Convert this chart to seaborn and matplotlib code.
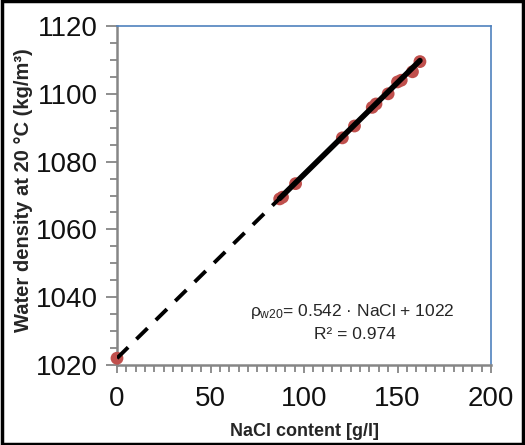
import numpy as np
import pandas as pd
import matplotlib
matplotlib.use("Agg")
import matplotlib.pyplot as plt
import seaborn as sns
from matplotlib.patches import Rectangle
from matplotlib.ticker import MultipleLocator

# Data
nacl = [0, 87, 88.5, 95.5, 120.5, 127, 136.5, 138.5, 145, 150, 152, 158, 162]
density = [1022, 1069, 1069.5, 1073.5, 1087, 1090.5, 1096, 1097, 1100, 1103.5, 1104, 1106.5, 1109.5]
slope = 0.542
intercept = 1022
r2 = 0.974
fit_solid_range = [87, 162]
fit_dash_range = [0, 87]
x_ticks = [0, 50, 100, 150, 200]
y_ticks = [1020, 1040, 1060, 1080, 1100, 1120]

sns.set_theme(style="white")
plt.rcParams['font.family'] = ['Liberation Sans', 'DejaVu Sans']
plt.rcParams['mathtext.fontset'] = 'custom'
plt.rcParams['mathtext.rm'] = 'Liberation Sans'
plt.rcParams['mathtext.it'] = 'Liberation Sans'

fig = plt.figure(figsize=(5.25, 4.45), dpi=100)
ax = fig.add_axes([117/525, 1-365/445, 374/525, 339/445])

df = pd.DataFrame({"x": nacl, "y": density})
sns.scatterplot(data=df, x="x", y="y", ax=ax, color="#C0504D", s=85,
                edgecolor="none", zorder=3, clip_on=False)

sx = np.array(fit_solid_range, dtype=float)
dx = np.array(fit_dash_range, dtype=float)
sns.lineplot(x=sx, y=slope*sx+intercept, ax=ax, color="black", lw=4, zorder=4)
ax.plot(dx, slope*dx+intercept, color="black", lw=2.8, ls=(0, (4, 3)), zorder=4)

ax.set_xlim(0, 200)
ax.set_ylim(1020, 1120)
ax.set_xticks(x_ticks)
ax.set_yticks(y_ticks)
ax.xaxis.set_minor_locator(MultipleLocator(5))
ax.yaxis.set_minor_locator(MultipleLocator(5))

ax.tick_params(axis='both', which='both', direction='out', color='#868686', width=1.3)
ax.tick_params(axis='y', which='major', length=8, pad=6, labelsize=20, left=True)
ax.tick_params(axis='y', which='minor', length=5, left=True)
ax.tick_params(axis='x', which='major', length=6, pad=9, labelsize=20, bottom=True)
ax.tick_params(axis='x', which='minor', length=5, bottom=True)
for lab in ax.get_xticklabels() + ax.get_yticklabels():
    lab.set_fontfamily(['Liberation Sans Narrow', 'Liberation Sans', 'DejaVu Sans'])
    lab.set_color('#111111')

for s in ['left', 'bottom']:
    ax.spines[s].set_color('#868686')
    ax.spines[s].set_linewidth(1.8)
for s in ['top', 'right']:
    ax.spines[s].set_color('#4F81BD')
    ax.spines[s].set_linewidth(1.2)

ax.set_xlabel("NaCl content [g/l]", fontsize=13, fontweight='bold', va='top')
ax.xaxis.set_label_coords(0.501, -0.171)
ax.set_ylabel("Water density at 20 °C (kg/m³)", fontsize=14.5, fontweight='bold')
ax.yaxis.set_label_coords(-0.224, 0.515)

ax.text(0.63, 0.157, r"$\rho_{w20}$= " + f"{slope} · NaCl + {intercept}",
        transform=ax.transAxes, ha='center', va='center', fontsize=12.5)
ax.text(0.635, 0.089, f"R² = {r2}", transform=ax.transAxes,
        ha='center', va='center', fontsize=12.5)

fig.patches.append(Rectangle((0.003, 0.003), 0.994, 0.994, transform=fig.transFigure,
                             fill=False, edgecolor='black', lw=2.5))

fig.savefig("out.png", dpi=100, facecolor='white')
